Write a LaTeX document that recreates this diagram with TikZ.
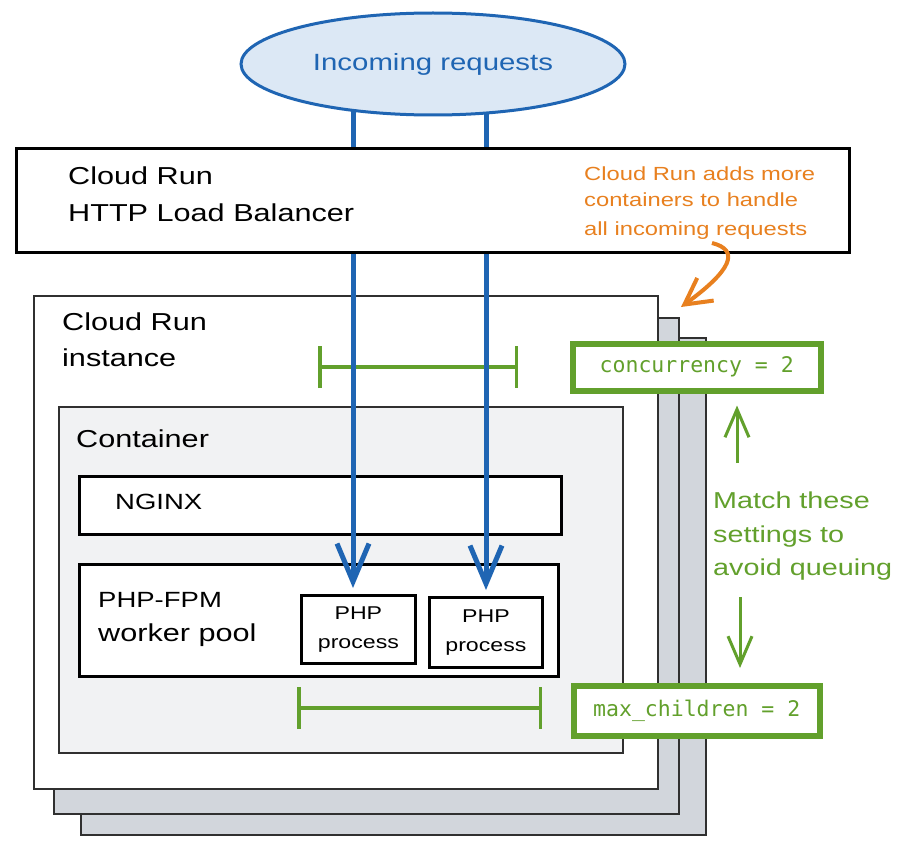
\documentclass[tikz,border=0pt]{standalone}
\usepackage{fontspec}
\setmainfont[FakeStretch=1.25]{Liberation Sans}
\setmonofont{DejaVu Sans Mono}
\usetikzlibrary{arrows.meta,shapes.geometric}
\definecolor{cblue}{HTML}{1F65B3}
\definecolor{cbluefill}{HTML}{DCE8F5}
\definecolor{corange}{HTML}{E8801F}
\definecolor{cgreen}{HTML}{62A02C}
\definecolor{cstack}{HTML}{D2D6DC}
\definecolor{ccont}{HTML}{F1F2F3}
\definecolor{cedge}{HTML}{303030}
\begin{document}
\begin{tikzpicture}[x=1pt,y=-1pt,
  box/.style={draw=cedge, rectangle, anchor=north west, inner sep=0pt},
  stackbox/.style={box, fill=cstack, line width=1.8pt},
  blackbox/.style={box, draw=black, fill=white, line width=3pt},
  setbox/.style={box, draw=cgreen, fill=white, line width=5.5pt, font=\ttfamily\fontsize{21.5}{24}\selectfont, text=cgreen},
  lbl/.style={anchor=base west, inner sep=0pt, font=\fontsize{24.5}{30}\selectfont},
  note/.style={anchor=base west, inner sep=0pt, font=\fontsize{19}{22}\selectfont, text=corange},
  gnote/.style={anchor=base west, inner sep=0pt, font=\fontsize{23}{28}\selectfont, text=cgreen},
  procbox/.style={box, draw=black, fill=white, line width=2.8pt, align=center, font=\fontsize{18.5}{29}\selectfont},
  barrow/.style={draw=cblue, line width=5pt, -{Straight Barb[length=38pt,width=32pt]}, shorten >=6pt},
  garrow/.style={draw=cgreen, line width=3pt, -{Straight Barb[length=28pt,width=24pt]}},
  bracket/.style={draw=cgreen, line width=3.5pt, {Bar[width=42pt]}-{Bar[width=42pt]}},
  oarrow/.style={draw=corange, line width=4pt, -{Straight Barb[length=26pt,width=28pt]}}
]
\useasboundingbox (0,0) rectangle (900,848);
\fill[white] (0,0) rectangle (900,848);

% instance stack
\node[stackbox, minimum width=625pt, minimum height=497pt] (inst3) at (80,337) {};
\node[stackbox, minimum width=625pt, minimum height=496pt] (inst2) at (53,317) {};
\node[box, fill=white, line width=1.8pt, minimum width=624pt, minimum height=493pt] (inst1) at (33,295) {};
\node[lbl] (insttxt1) at (62,330) {Cloud Run};
\node[lbl] (insttxt2) at (62,366) {instance};

% container
\node[box, fill=ccont, line width=2pt, minimum width=564pt, minimum height=346pt] (cont) at (58,406) {};
\node[lbl] (conttxt) at (76,447) {Container};

\node[blackbox, minimum width=482pt, minimum height=58pt] (nginx) at (78,475) {};
\node[lbl, font=\fontsize{22}{26}\selectfont] (nginxtxt) at (115,509) {NGINX};

\node[blackbox, minimum width=479pt, minimum height=112pt] (fpm) at (78,563) {};
\node[lbl, font=\fontsize{22}{26}\selectfont] (fpmtxt1) at (98,607) {PHP-FPM};
\node[lbl] (fpmtxt2) at (98,641) {worker pool};

\node[procbox, minimum width=114pt, minimum height=68pt] (p1) at (300,594) {PHP\\process};
\node[procbox, minimum width=113pt, minimum height=70pt] (p2) at (428,596) {PHP\\process};

% brackets
\coordinate (b1l) at (318,367);
\coordinate (b1r) at (518,367);
\draw[bracket] (b1l) -- (b1r);
\coordinate (b2l) at (297,708);
\coordinate (b2r) at (542,708);
\draw[bracket] (b2l) -- (b2r);

% blue request lines
\coordinate (bl1) at (353,100);
\coordinate (bl2) at (486,100);
\draw[barrow] (bl1) -- (bl1 |- p1.north);
\draw[barrow] (bl2) -- (bl2 |- p2.north);

% load balancer
\node[blackbox, minimum width=833pt, minimum height=104pt] (lb) at (15,147) {};
\node[lbl] (lbtxt1) at (68,185) {Cloud Run};
\node[lbl] (lbtxt2) at (68,221) {HTTP Load Balancer};

% incoming requests
\node[ellipse, draw=cblue, fill=cbluefill, line width=3pt, minimum width=384pt, minimum height=102pt, inner sep=0pt, text=cblue, font=\fontsize{23.5}{28}\selectfont] (req) at (433,64) {Incoming requests};

% orange note
\node[note] (on1) at (584,180) {Cloud Run adds more};
\node[note] (on2) at (584,207) {containers to handle};
\node[note] (on3) at (584,235) {all incoming requests};
\coordinate (oa) at (712,243);
\coordinate (ob) at (681,307);
\draw[oarrow] (oa) .. controls (740,250) and (732,270) .. (ob);

% settings
\node[setbox, minimum width=248pt, minimum height=47pt] (conc) at (570,341) {concurrency = 2};
\node[setbox, minimum width=246pt, minimum height=50pt] (maxc) at (571,683) {max\_children = 2};

% green note
\node[gnote] (gn1) at (713,508) {Match these};
\node[gnote] (gn2) at (713,542) {settings to};
\node[gnote] (gn3) at (713,575) {avoid queuing};
\coordinate (gu) at (737,463);
\draw[garrow, shorten >=12pt] (gu) -- (gu |- conc.south);
\coordinate (gd) at (740,597);
\draw[garrow, shorten >=15pt] (gd) -- (gd |- maxc.north);
\end{tikzpicture}
\end{document}
